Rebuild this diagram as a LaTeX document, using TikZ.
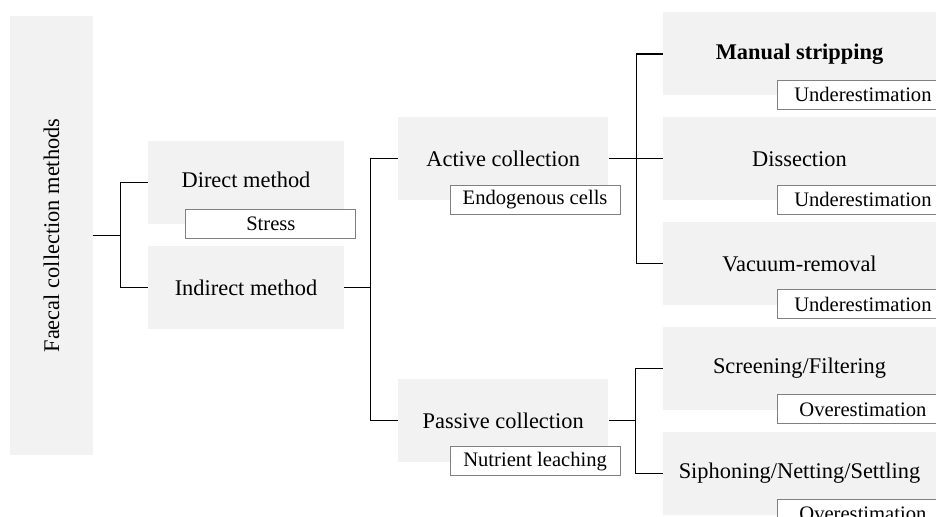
\documentclass[tikz,border=0pt]{standalone}
\usepackage{fontspec}
\setmainfont{Liberation Serif}
\usetikzlibrary{positioning}
\definecolor{boxgray}{RGB}{242,242,242}
\definecolor{taggray}{RGB}{128,128,128}
\tikzstyle{mbox}=[rectangle, fill=boxgray, draw=none, inner sep=0pt, minimum height=41.5pt,
text centered, font=\fontsize{11.2}{13}\selectfont]
\tikzstyle{tbox}=[rectangle, fill=white, draw=taggray, line width=0.5pt, inner sep=0pt,
minimum width=85pt, minimum height=14.5pt, text centered, font=\fontsize{10.3}{12}\selectfont]
\tikzstyle{line}=[-, line width=0.65pt, black]

\begin{document}
\begin{tikzpicture}[x=0.5pt, y=-0.5pt, node distance=10.5pt]
\fill[white] (0,0) rectangle (936,517);
\useasboundingbox (0,0) rectangle (936,517);
\clip (0,0) rectangle (936,517);

    \node (faecal) [mbox, minimum width=41.5pt, minimum height=219.5pt] at (51.5,235.5) {\rotatebox{90}{Faecal collection methods}};

    \node (indirect) [mbox, minimum width=98pt] at (246,287.5) {Indirect method};
    \node (direct) [mbox, minimum width=98pt, above=of indirect] {\raisebox{2.75pt}{Direct method}};

    \node (manual) [mbox, minimum width=136.5pt] at (799.5,54) {\textbf{Manual stripping}};
    \node (dissect) [mbox, minimum width=136.5pt, below=of manual] {Dissection};
    \node (vacuum) [mbox, minimum width=136.5pt, below=of dissect] {Vacuum-removal};
    \node (screen) [mbox, minimum width=136.5pt, below=of vacuum] {Screening/Filtering};
    \node (siphon) [mbox, minimum width=136.5pt, below=of screen] {Siphoning/Netting/Settling};

    \node (active) [mbox, minimum width=105pt, left=27pt of dissect] {Active collection};
    \node (passive) [mbox, minimum width=105pt, below=89pt of active] {Passive collection};

%tags
	\node(stress)[tbox, below left=-8pt and -6pt of direct.south east]{Stress} ;
	\node(endo)[tbox, below left=-8pt and -6pt of active.south east]{Endogenous cells} ;
	\node(leach)[tbox, below left=-8pt and -6pt of passive.south east]{Nutrient leaching} ;
	\node(under1)[tbox, below left=-8pt and -6pt of manual.south east]{Underestimation} ;
	\node(under2)[tbox, below left=-8pt and -6pt of dissect.south east]{Underestimation} ;
	\node(under3)[tbox, below left=-8pt and -6pt of vacuum.south east]{Underestimation} ;
	\node(over1)[tbox, below left=-8pt and -6pt of screen.south east]{Overestimation} ;
	\node(over2)[tbox, below left=-8pt and -6pt of siphon.south east]{Overestimation} ;
%Lines ..

\draw[line] (direct.west) -- ++(-27,0) |- (faecal.east);
\draw[line] (indirect.west) -- ++(-27,0) |- (faecal.east);

\draw[line] (active.west) -- ++(-27,0) |- (indirect.east);
\draw[line] (passive.west) -- ++(-27,0) |- (indirect.east);

\draw[line] (manual.west) -- ++(-26,0) |- (active.east);
\draw[line] (dissect.west) -- (active.east);
\draw[line] (vacuum.west) -- ++(-26,0) |- (active.east);

\draw[line] (screen.west) -- ++(-27,0) |- (passive.east);
\draw[line] (siphon.west) -- ++(-27,0) |- (passive.east);

\end{tikzpicture}
\end{document}
